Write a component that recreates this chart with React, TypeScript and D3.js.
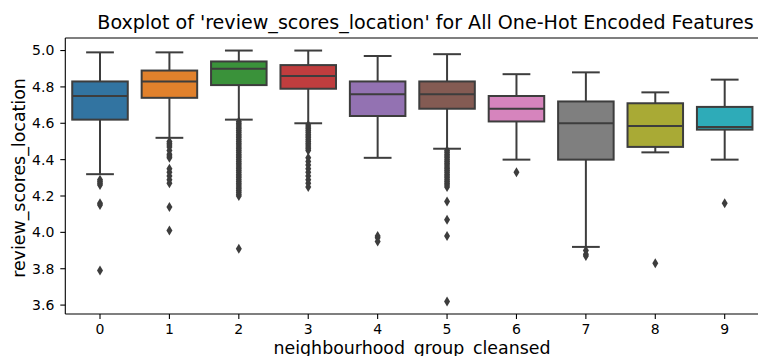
import * as d3 from "d3";

const groups = ["0", "1", "2", "3", "4", "5", "6", "7", "8", "9"];
const whiskerHigh = [4.99, 4.99, 5.0, 5.0, 4.97, 4.98, 4.87, 4.88, 4.77, 4.84];
const q3 = [4.83, 4.89, 4.94, 4.92, 4.83, 4.83, 4.75, 4.72, 4.71, 4.69];
const medians = [4.75, 4.83, 4.9, 4.86, 4.76, 4.76, 4.68, 4.6, 4.585, 4.58];
const q1 = [4.62, 4.74, 4.81, 4.79, 4.64, 4.68, 4.61, 4.4, 4.47, 4.565];
const whiskerLow = [4.32, 4.52, 4.62, 4.6, 4.41, 4.46, 4.4, 3.92, 4.44, 4.4];
const outliers: number[][] = [
  [4.29, 4.28, 4.27, 4.26, 4.16, 4.15, 3.79],
  [4.5, 4.49, 4.48, 4.47, 4.45, 4.43, 4.42, 4.41, 4.35, 4.33, 4.31, 4.29, 4.27, 4.14, 4.01],
  [
    4.61, 4.6, 4.59, 4.58, 4.57, 4.56, 4.55, 4.54, 4.53, 4.52, 4.51, 4.5, 4.49, 4.48,
    4.47, 4.46, 4.45, 4.44, 4.43, 4.42, 4.41, 4.4, 4.39, 4.38, 4.37, 4.36, 4.35, 4.34,
    4.33, 4.32, 4.31, 4.3, 4.29, 4.28, 4.27, 4.26, 4.25, 4.24, 4.23, 4.22, 4.21, 4.2, 3.91,
  ],
  [
    4.59, 4.58, 4.57, 4.56, 4.55, 4.54, 4.53, 4.52, 4.51, 4.5, 4.49, 4.48, 4.47, 4.46,
    4.45, 4.41, 4.39, 4.37, 4.35, 4.33, 4.31, 4.29, 4.27, 4.25,
  ],
  [3.98, 3.97, 3.95],
  [
    4.45, 4.44, 4.43, 4.42, 4.41, 4.4, 4.39, 4.38, 4.37, 4.36, 4.35, 4.34, 4.33, 4.32,
    4.31, 4.3, 4.29, 4.28, 4.27, 4.26, 4.25, 4.17, 4.07, 3.98, 3.62,
  ],
  [4.33],
  [3.9, 3.88, 3.87],
  [3.83],
  [4.16],
];
const yTicks = [3.6, 3.8, 4.0, 4.2, 4.4, 4.6, 4.8, 5.0];
const colors = [
  "#3274a1", "#e1812c", "#3a923a", "#c03d3e", "#9372b2",
  "#845b53", "#d684bd", "#7f7f7f", "#a9aa35", "#2eabb8",
];

const W = 758;
const H = 356;
const left = 65.3;
const right = 759.4;
const top = 38;
const bottom = 314;
const gray = "#3d3d3d";
const font = "DejaVu Sans";

export default function App() {
  const x = d3
    .scaleBand<string>()
    .domain(groups)
    .range([left, right])
    .paddingInner(0.2)
    .paddingOuter(0.1);
  const y = d3.scaleLinear().domain([3.551, 5.069]).range([bottom, top]);
  const bw = x.bandwidth();
  // thin diamond flier marker, like seaborn's "d"
  const diamond = `M0,-5 L3,0 L0,5 L-3,0 Z`;

  return (
    <svg
      width={W}
      height={H}
      style={{ position: "absolute", left: 0, top: 0, background: "#fff" }}
    >
      <text
        x={425.5}
        y={29}
        textAnchor="middle"
        fontFamily={font}
        fontSize={19.1}
        fill="#000"
      >
        Boxplot of 'review_scores_location' for All One-Hot Encoded Features
      </text>

      {groups.map((g, i) => {
        const x0 = x(g)!;
        const cx = x0 + bw / 2;
        return (
          <g key={g}>
            <line x1={cx} x2={cx} y1={y(q3[i])} y2={y(whiskerHigh[i])} stroke={gray} strokeWidth={2} />
            <line x1={cx} x2={cx} y1={y(q1[i])} y2={y(whiskerLow[i])} stroke={gray} strokeWidth={2} />
            <line x1={cx - bw / 4} x2={cx + bw / 4} y1={y(whiskerHigh[i])} y2={y(whiskerHigh[i])} stroke={gray} strokeWidth={2} />
            <line x1={cx - bw / 4} x2={cx + bw / 4} y1={y(whiskerLow[i])} y2={y(whiskerLow[i])} stroke={gray} strokeWidth={2} />
            <rect
              x={x0}
              y={y(q3[i])}
              width={bw}
              height={y(q1[i]) - y(q3[i])}
              fill={colors[i]}
              stroke={gray}
              strokeWidth={2}
            />
            <line x1={x0} x2={x0 + bw} y1={y(medians[i])} y2={y(medians[i])} stroke={gray} strokeWidth={2} />
            {outliers[i].map((v, j) => (
              <path key={j} d={diamond} transform={`translate(${cx},${y(v)})`} fill={gray} />
            ))}
          </g>
        );
      })}

      {/* spines */}
      <line x1={left} x2={left} y1={top} y2={bottom} stroke="#000" strokeWidth={1.1} />
      <line x1={left} x2={right} y1={bottom} y2={bottom} stroke="#000" strokeWidth={1.1} />
      <line x1={left} x2={right} y1={top} y2={top} stroke="#000" strokeWidth={1.1} />
      <line x1={right} x2={right} y1={top} y2={bottom} stroke="#000" strokeWidth={1.1} />

      {yTicks.map((t) => (
        <g key={t} transform={`translate(${left},${y(t)})`}>
          <line x1={-5} x2={0} stroke="#000" strokeWidth={1.1} />
          <text x={-11} dy="0.35em" textAnchor="end" fontFamily={font} fontSize={14} fill="#000">
            {t.toFixed(1)}
          </text>
        </g>
      ))}
      {groups.map((g) => (
        <g key={g} transform={`translate(${x(g)! + bw / 2},${bottom})`}>
          <line y1={0} y2={5} stroke="#000" strokeWidth={1.1} />
          <text y={19.5} textAnchor="middle" fontFamily={font} fontSize={14} fill="#000">
            {g}
          </text>
        </g>
      ))}

      <text
        x={412}
        y={354}
        textAnchor="middle"
        fontFamily={font}
        fontSize={17.4}
        fill="#000"
      >
        neighbourhood_group_cleansed
      </text>
      <text
        transform={`translate(25,${(top + bottom) / 2 + 2}) rotate(-90)`}
        textAnchor="middle"
        fontFamily={font}
        fontSize={17.4}
        fill="#000"
      >
        review_scores_location
      </text>
    </svg>
  );
}
